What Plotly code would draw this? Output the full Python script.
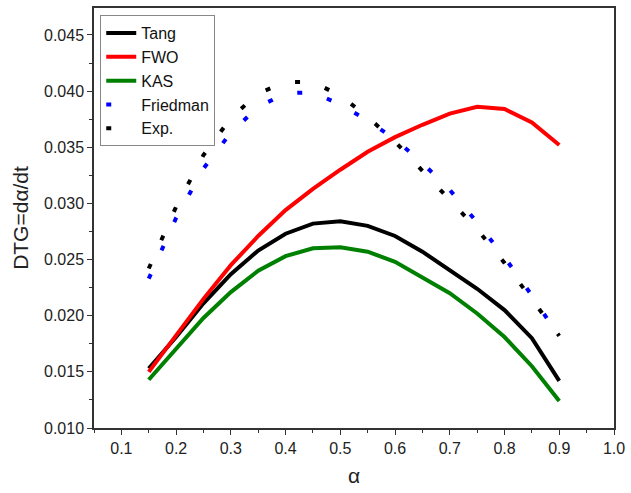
import plotly.graph_objects as go

alpha = [0.15, 0.20, 0.25, 0.30, 0.35, 0.40, 0.45, 0.50, 0.55, 0.60, 0.65, 0.70, 0.75, 0.80, 0.85, 0.90]

tang = [0.0153, 0.0181, 0.0211, 0.0237, 0.0258, 0.0273, 0.0282, 0.0284, 0.0280, 0.0271, 0.0257, 0.0240, 0.0224, 0.0205, 0.0180, 0.0142]
fwo = [0.0150, 0.0182, 0.0215, 0.0245, 0.0271, 0.0294, 0.0313, 0.0330, 0.0346, 0.0359, 0.0370, 0.0380, 0.0386, 0.0384, 0.0372, 0.0352]
kas = [0.0143, 0.0171, 0.0198, 0.0221, 0.0240, 0.0253, 0.0260, 0.0261, 0.0257, 0.0248, 0.0234, 0.0220, 0.0202, 0.0181, 0.0155, 0.0124]
friedman = [0.0233, 0.0287, 0.0331, 0.0363, 0.0386, 0.0398, 0.0399, 0.0388, 0.0374, 0.0357, 0.0336, 0.0312, 0.0283, 0.0252, 0.0218, 0.0181]
exp_ = [0.0242, 0.0297, 0.0343, 0.0376, 0.0398, 0.0408, 0.0408, 0.0396, 0.0377, 0.0355, 0.0329, 0.0303, 0.0277, 0.0247, 0.0215, 0.0182]

FONT = "Liberation Sans, Arial, sans-serif"

fig = go.Figure()
fig.add_trace(go.Scatter(x=alpha, y=tang, mode="lines", name="Tang",
                         line=dict(color="#000000", width=4)))
fig.add_trace(go.Scatter(x=alpha, y=fwo, mode="lines", name="FWO",
                         line=dict(color="#FF0000", width=4)))
fig.add_trace(go.Scatter(x=alpha, y=kas, mode="lines", name="KAS",
                         line=dict(color="#008000", width=4)))
fig.add_trace(go.Scatter(x=alpha, y=friedman, mode="lines", name="Friedman",
                         line=dict(color="#0000FF", width=4, dash="5px,26px")))
fig.add_trace(go.Scatter(x=alpha, y=exp_, mode="lines", name="Exp.",
                         line=dict(color="#000000", width=4, dash="5px,26px")))

axis_common = dict(
    showline=True, linecolor="#333333", linewidth=1.5, mirror=True,
    ticks="outside", ticklen=5, tickwidth=1.2, tickcolor="#333333",
    showgrid=False, zeroline=False,
    tickfont=dict(family=FONT, size=16, color="#222222"),
)

fig.update_xaxes(range=[0.05, 1.0], dtick=0.1, tick0=0.1, tickformat=".1f",
                 title=dict(text="α", font=dict(family=FONT, size=21, color="#222222"), standoff=12),
                 minor=dict(dtick=0.05, tick0=0.05, ticks="outside", ticklen=3, tickcolor="#333333", showgrid=False),
                 **axis_common)
fig.update_yaxes(range=[0.010, 0.0474], dtick=0.005, tick0=0.010, tickformat=".3f",
                 title=dict(text="DTG=dα/dt", font=dict(family=FONT, size=21, color="#222222"), standoff=10),
                 minor=dict(dtick=0.0025, tick0=0.010, ticks="outside", ticklen=3, tickcolor="#333333", showgrid=False),
                 **axis_common)

fig.update_layout(
    width=631, height=493,
    margin=dict(l=94, r=13, t=6, b=65),
    plot_bgcolor="white", paper_bgcolor="white",
    font=dict(family=FONT, size=16, color="#111111"),
    legend=dict(x=0.012, y=0.983, xanchor="left", yanchor="top",
                bgcolor="white", bordercolor="#888888", borderwidth=1,
                font=dict(family=FONT, size=16, color="#111111"),
                tracegroupgap=0, itemwidth=30),
    showlegend=True,
)

fig.write_html("out.html")
